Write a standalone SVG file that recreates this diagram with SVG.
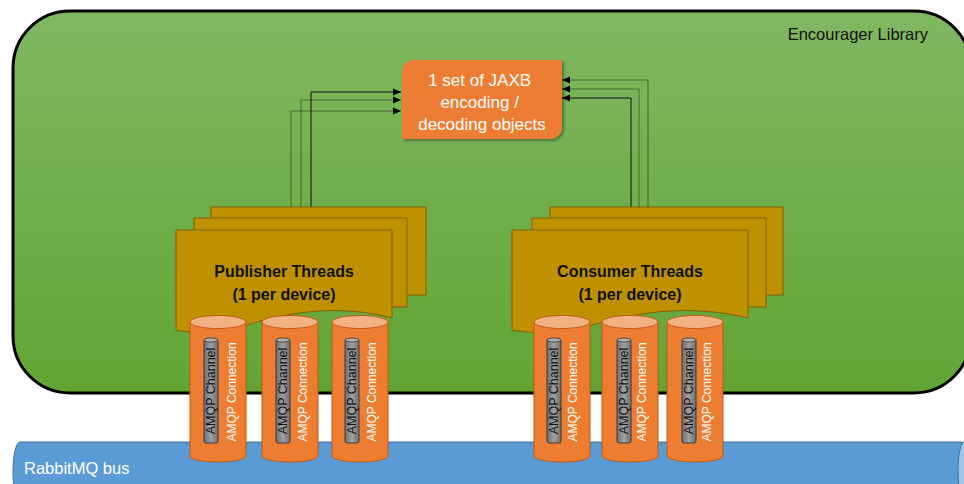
<svg xmlns="http://www.w3.org/2000/svg" width="964" height="484" viewBox="0 0 964 484">
<defs>
<linearGradient id="gGreen" x1="0" y1="0" x2="0" y2="1">
<stop offset="0" stop-color="#80b862"/>
<stop offset="1" stop-color="#61a434"/>
</linearGradient>
<linearGradient id="gGray" x1="0" y1="0" x2="1" y2="0">
<stop offset="0" stop-color="#6d6d6d"/>
<stop offset="0.5" stop-color="#a0a0a0"/>
<stop offset="1" stop-color="#6d6d6d"/>
</linearGradient>
<marker id="arr" viewBox="0 0 8 8" refX="8" refY="4" markerWidth="8" markerHeight="8" markerUnits="userSpaceOnUse" orient="auto">
<path d="M0,0.5 L8,4 L0,7.5 Z" fill="#000"/>
</marker>
<filter id="sh" x="-10%" y="-10%" width="130%" height="130%">
<feDropShadow dx="2" dy="2" stdDeviation="1.5" flood-color="#000" flood-opacity="0.35"/>
</filter>
</defs>
<style>
.lbl{font-family:"Liberation Sans",Arial,sans-serif}
.thr{fill:#bf9000;stroke:#7f6000;stroke-width:1}
.thrt{font-family:"Liberation Sans",Arial,sans-serif;font-weight:bold;font-size:16px;fill:#111;text-anchor:middle}
.cylb{fill:#ed7d31;stroke:#c55a11;stroke-width:1}
.cylt{fill:#f4b183;stroke:#c55a11;stroke-width:1}
.ch{fill:url(#gGray);stroke:#3a3a3a;stroke-width:1}
.cht{fill:#b0b0b0;stroke:#3a3a3a;stroke-width:0.8}
.chtx{font-family:"Liberation Sans",Arial,sans-serif;font-size:12.5px;fill:#111;text-anchor:middle;dominant-baseline:central}
.cntx{font-family:"Liberation Sans",Arial,sans-serif;font-size:12px;fill:#fff;text-anchor:middle;dominant-baseline:central}
.c1{fill:none;stroke:#111;stroke-width:1}
.c2{fill:none;stroke:#000;stroke-opacity:0.4;stroke-width:1}
</style>

<g id="encourager-library">
<rect x="13" y="11" width="958" height="382" rx="57" ry="57" fill="url(#gGreen)" stroke="#000" stroke-width="3"/>
<text class="lbl" x="928" y="40" font-size="16.5" text-anchor="end" fill="#111">Encourager Library</text>
</g>

<g id="rabbitmq-bus">
<path d="M20,442 H962 V500 H20 A7,29 0 0 1 20,442 Z" fill="#5b9bd5" stroke="#41719c" stroke-width="1"/>
<ellipse cx="964" cy="471" rx="6" ry="29" fill="#9dc3e6" stroke="#41719c" stroke-width="1"/>
<text class="lbl" x="24" y="474" font-size="16.5" fill="#fff">RabbitMQ bus</text>
</g>

<g id="connectors">
<path class="c1" d="M311,207 V92 H401" marker-end="url(#arr)"/>
<path class="c2" d="M301,218 V100 H401" marker-end="url(#arr)"/>
<path class="c2" d="M291,230 V111 H401" marker-end="url(#arr)"/>
<path class="c2" d="M648,207 V80 H562" marker-end="url(#arr)"/>
<path class="c2" d="M639,218 V89 H562" marker-end="url(#arr)"/>
<path class="c1" d="M631,230 V98 H562" marker-end="url(#arr)"/>
</g>

<g id="jaxb-objects">
<path d="M414,60 H562 V127 A12,12 0 0 1 550,139 H402 V72 A12,12 0 0 1 414,60 Z" fill="#ed7d31" filter="url(#sh)"/>
<text class="lbl" font-size="17" fill="#fff" text-anchor="middle">
<tspan x="482" y="86">1 set of JAXB</tspan>
<tspan x="482" y="108">encoding /</tspan>
<tspan x="482" y="130">decoding objects</tspan>
</text>
</g>

<g id="publisher-threads">
<rect class="thr" x="211" y="207" width="215" height="88"/>
<rect class="thr" x="194" y="218" width="213" height="89"/>
<path class="thr" d="M176,230 H392 V318 C340,304 290,312 250,324 C215,334 195,334 176,330 Z"/>
<text class="thrt" x="284" y="277">Publisher Threads</text>
<text class="thrt" x="284" y="300">(1 per device)</text>
</g>

<g id="consumer-threads">
<rect class="thr" x="550" y="207" width="233" height="88"/>
<rect class="thr" x="532" y="218" width="234" height="89"/>
<path class="thr" d="M512,230 H748 V318 C690,304 640,312 596,324 C558,334 536,334 512,330 Z"/>
<text class="thrt" x="630" y="277">Consumer Threads</text>
<text class="thrt" x="630" y="300">(1 per device)</text>
</g>

<g id="pub-conn-1" transform="translate(190,315)">
<path class="cylb" d="M0,7 V141 A28,6 0 0 0 56,141 V7 Z"/>
<ellipse class="cylt" cx="28" cy="7" rx="28" ry="6.5"/>
<rect class="ch" x="14" y="24" width="14" height="104" rx="2"/>
<ellipse class="cht" cx="21" cy="25" rx="7" ry="2"/>
<text class="chtx" transform="translate(21,76) rotate(-90)">AMQP Channel</text>
<text class="cntx" transform="translate(42,77) rotate(-90)">AMQP Connection</text>
</g>
<g id="pub-conn-2" transform="translate(262,315)">
<path class="cylb" d="M0,7 V141 A28,6 0 0 0 56,141 V7 Z"/>
<ellipse class="cylt" cx="28" cy="7" rx="28" ry="6.5"/>
<rect class="ch" x="14" y="24" width="14" height="104" rx="2"/>
<ellipse class="cht" cx="21" cy="25" rx="7" ry="2"/>
<text class="chtx" transform="translate(21,76) rotate(-90)">AMQP Channel</text>
<text class="cntx" transform="translate(41,77) rotate(-90)">AMQP Connection</text>
</g>
<g id="pub-conn-3" transform="translate(332,315)">
<path class="cylb" d="M0,7 V141 A28,6 0 0 0 56,141 V7 Z"/>
<ellipse class="cylt" cx="28" cy="7" rx="28" ry="6.5"/>
<rect class="ch" x="13" y="24" width="14" height="104" rx="2"/>
<ellipse class="cht" cx="20" cy="25" rx="7" ry="2"/>
<text class="chtx" transform="translate(20,76) rotate(-90)">AMQP Channel</text>
<text class="cntx" transform="translate(40,77) rotate(-90)">AMQP Connection</text>
</g>

<g id="con-conn-1" transform="translate(534,315)">
<path class="cylb" d="M0,7 V141 A28,6 0 0 0 56,141 V7 Z"/>
<ellipse class="cylt" cx="28" cy="7" rx="28" ry="6.5"/>
<rect class="ch" x="13" y="24" width="14" height="104" rx="2"/>
<ellipse class="cht" cx="20" cy="25" rx="7" ry="2"/>
<text class="chtx" transform="translate(20,76) rotate(-90)">AMQP Channel</text>
<text class="cntx" transform="translate(39,77) rotate(-90)">AMQP Connection</text>
</g>
<g id="con-conn-2" transform="translate(602,315)">
<path class="cylb" d="M0,7 V141 A28,6 0 0 0 56,141 V7 Z"/>
<ellipse class="cylt" cx="28" cy="7" rx="28" ry="6.5"/>
<rect class="ch" x="15" y="24" width="14" height="104" rx="2"/>
<ellipse class="cht" cx="22" cy="25" rx="7" ry="2"/>
<text class="chtx" transform="translate(22,76) rotate(-90)">AMQP Channel</text>
<text class="cntx" transform="translate(40,77) rotate(-90)">AMQP Connection</text>
</g>
<g id="con-conn-3" transform="translate(667,315)">
<path class="cylb" d="M0,7 V141 A28,6 0 0 0 56,141 V7 Z"/>
<ellipse class="cylt" cx="28" cy="7" rx="28" ry="6.5"/>
<rect class="ch" x="15" y="24" width="14" height="104" rx="2"/>
<ellipse class="cht" cx="22" cy="25" rx="7" ry="2"/>
<text class="chtx" transform="translate(22,76) rotate(-90)">AMQP Channel</text>
<text class="cntx" transform="translate(40,77) rotate(-90)">AMQP Connection</text>
</g>
</svg>
